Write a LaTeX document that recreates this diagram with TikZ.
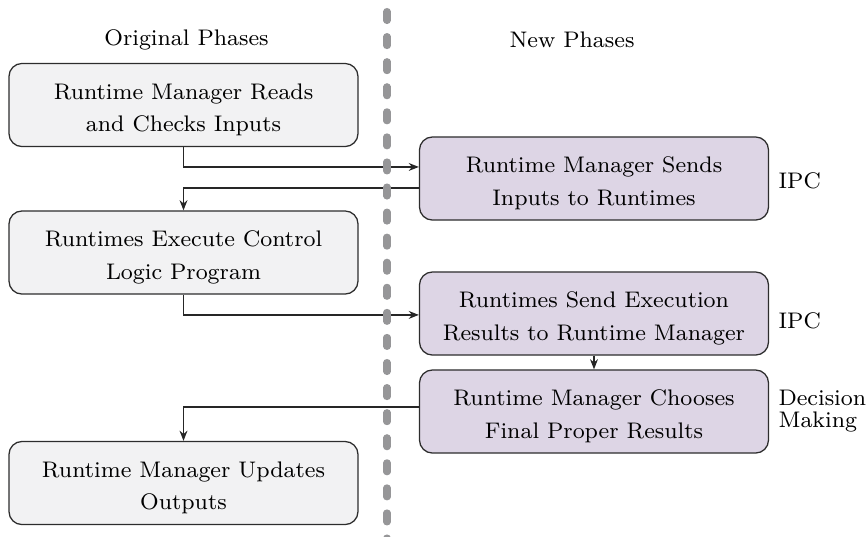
\documentclass[tikz,border=0pt]{standalone}
\usetikzlibrary{arrows.meta}
\definecolor{oldfill}{RGB}{242,242,243}
\definecolor{newfill}{RGB}{221,213,229}
\definecolor{edgegray}{RGB}{45,45,45}
\definecolor{sepgray}{RGB}{150,150,152}
% lowers a two-line box text a little inside its frame
\newcommand{\firstline}{\rule{0pt}{9.0pt}}
\begin{document}
\begin{tikzpicture}[x=0.355pt,y=-0.355pt,
  phase/.style={draw=edgegray, line width=0.45pt, rounded corners=4.6pt,
    minimum width=123.9pt, minimum height=29.5pt, inner sep=0pt,
    align=center, font=\fontsize{8}{11.7}\selectfont},
  oldphase/.style={phase, fill=oldfill},
  newphase/.style={phase, fill=newfill},
  lbl/.style={font=\fontsize{8}{10}\selectfont, inner sep=0pt},
  arr/.style={draw=black!85, line width=0.45pt, -{Stealth[length=3.6pt,width=2.8pt]}},
  sepline/.style={draw=sepgray, line width=2.5pt, line cap=round,
    dash pattern=on 3.2pt off 5.7pt}]
\useasboundingbox (0,0) rectangle (867,536);

% column headings
\node[lbl] (hold) at (186.5,40) {Original Phases};
\node[lbl] (hnew) at (572,40) {New Phases};

% original phases (left column)
\node[oldphase] (b1) at (183.5,105) {\firstline Runtime Manager Reads\\and Checks Inputs};
\node[oldphase] (b2) at (183.5,252.5) {\firstline Runtimes Execute Control\\Logic Program};
\node[oldphase] (b3) at (183.5,483) {\firstline Runtime Manager Updates\\Outputs};

% new phases (right column)
\node[newphase] (r1) at (594,178.5) {\firstline Runtime Manager Sends\\Inputs to Runtimes};
\node[newphase] (r2) at (594,313.5) {\firstline Runtimes Send Execution\\Results to Runtime Manager};
\node[newphase] (r3) at (594,411.5) {\firstline Runtime Manager Chooses\\Final Proper Results};

% side notes
\node[lbl, anchor=west] (n1) at (778,181) {IPC};
\node[lbl, anchor=west] (n2) at (778,321) {IPC};
\node[lbl, anchor=west, align=left, font=\fontsize{8}{7.8}\selectfont] (n3) at (778,411) {Decision\\Making};

% flow between the phases
\draw[arr] (b1.south) |- ([yshift=4.1pt]r1.west);
\draw[arr] ([yshift=-3.4pt]r1.west) -| (b2.north);
\draw[arr] (b2.south) |- ([yshift=-0.5pt]r2.west);
\draw[arr] (r2.south) -- (r3.north);
\draw[arr] ([yshift=1.6pt]r3.west) -| (b3.north);

% separator between old and new
\coordinate (septop) at (387,11.5);
\coordinate (sepbot) at (387,540);
\draw[sepline] (septop) -- (sepbot);
\end{tikzpicture}
\end{document}
